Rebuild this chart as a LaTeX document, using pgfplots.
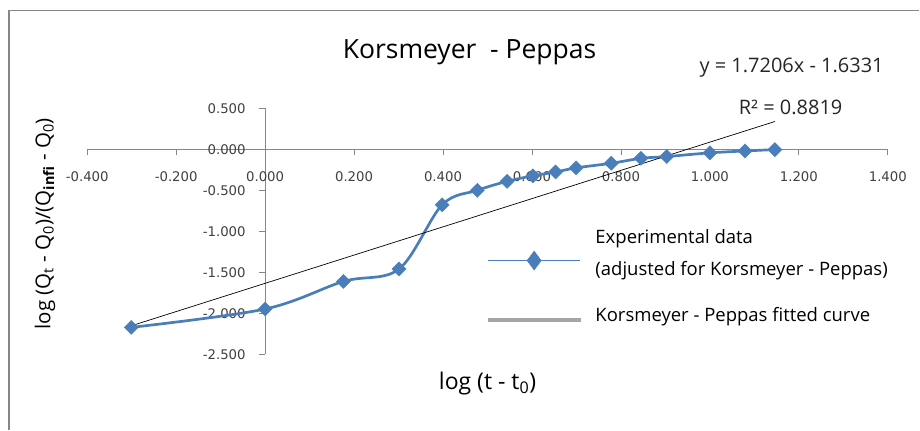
\documentclass[border=0pt]{standalone}
\usepackage{pgfplots}
\pgfplotsset{compat=1.18}
\usepackage{fontspec}
\setmainfont{Open Sans}
\newfontfamily\tickfont{DejaVu Sans}

\definecolor{seriesblue}{HTML}{4A7EBB}
\definecolor{axisgray}{HTML}{868686}
\definecolor{ticktext}{HTML}{404040}
\definecolor{legendgray}{HTML}{A6A6A6}

\begin{document}
\begin{tikzpicture}
% canvas and chart frame
\path (0pt,0pt) rectangle (920pt,-430pt);
\draw[axisgray, line width=1.8pt] (9pt,-430pt) -- (9pt,-10.5pt) -- (920pt,-10.5pt);

\begin{axis}[
  at={(87.3pt,-354.8pt)}, anchor=south west,
  scale only axis, width=801.4pt, height=246.4pt,
  xmin=-0.4, xmax=1.4, ymin=-2.5, ymax=0.5,
  axis lines=middle,
  axis line style={-, draw=axisgray, line width=0.9pt},
  xtick={-0.4,-0.2,0,0.2,0.4,0.6,0.8,1.0,1.2,1.4},
  ytick={-2.5,-2,-1.5,-1,-0.5,0,0.5},
  hide obscured x ticks=false, hide obscured y ticks=false,
  tick align=outside, major tick length=6pt,
  tick style={axisgray, line width=0.9pt},
  /pgf/number format/.cd, fixed, fixed zerofill, precision=3, assume math mode=true,
  /pgfplots/.cd,
  tick label style={font=\tickfont\fontsize{13.3pt}{15pt}\selectfont, text=ticktext},
  x tick label style={yshift=-13pt},
  y tick label style={xshift=-10pt},
  clip=false,
  legend cell align=left,
  legend style={at={(0.496,0.53)}, anchor=north west, draw=none, fill=none,
    font=\fontsize{18.5pt}{22pt}\selectfont, row sep=35pt},
]
\addplot[smooth, tension=0.55, color=seriesblue, line width=2.7pt,
  mark=square*, mark size=5pt,
  mark options={rotate=45, fill=seriesblue, draw=seriesblue, line width=0.4pt},
  legend image code/.code={
    \draw[draw=seriesblue, line width=1.4pt] (0pt,-16pt) -- (92pt,-16pt);
    \path[draw=seriesblue, fill=seriesblue, line width=0.4pt]
      plot[mark=diamond*, mark size=9.5pt, mark options={rotate=0, draw=seriesblue, fill=seriesblue}]
      coordinates {(46pt,-16pt)};
    \path (104pt,0pt);
  }]
coordinates {
(-0.301,-2.170) (0.000,-1.946) (0.176,-1.610) (0.301,-1.459)
(0.398,-0.676) (0.477,-0.500) (0.544,-0.390) (0.602,-0.323)
(0.653,-0.276) (0.699,-0.226) (0.778,-0.170) (0.845,-0.110)
(0.903,-0.088) (1.000,-0.043) (1.079,-0.020) (1.146,-0.003)
};
\addlegendentry{\begin{tabular}{@{}l@{}}Experimental data\\[10pt](adjusted for Korsmeyer - Peppas)\end{tabular}}

% linear trend line y = 1.7206x - 1.6331 over the data range
\addplot[black, line width=0.7pt,
  legend image code/.code={
    \fill[legendgray] (0pt,-3.7pt) rectangle (92pt,-6.3pt);
    \path (104pt,0pt);}]
coordinates {(-0.301,-2.151) (1.146,0.339)};
\addlegendentry{Korsmeyer - Peppas fitted curve}
\end{axis}

% titles and trend-line annotation
\node[font=\fontsize{26.5pt}{31pt}\selectfont] at (470pt,-52pt) {Korsmeyer\ \ - Peppas};
\node[font=\fontsize{20pt}{24pt}\selectfont, anchor=east, text=black!85] at (888pt,-68pt) {y = 1.7206x - 1.6331};
\node[font=\fontsize{20pt}{24pt}\selectfont, anchor=west, text=black!85] at (736pt,-108pt) {R² = 0.8819};
\node[font=\fontsize{23pt}{27pt}\selectfont] at (488pt,-384pt) {log (t - t\textsubscript{0})};
\node[font=\fontsize{20.5pt}{24pt}\selectfont, rotate=90] at (45pt,-224pt)
  {log (Q\textsubscript{t} - Q\textsubscript{0})/(Q\textsubscript{\textbf{infi}} - Q\textsubscript{0})};
\end{tikzpicture}
\end{document}
